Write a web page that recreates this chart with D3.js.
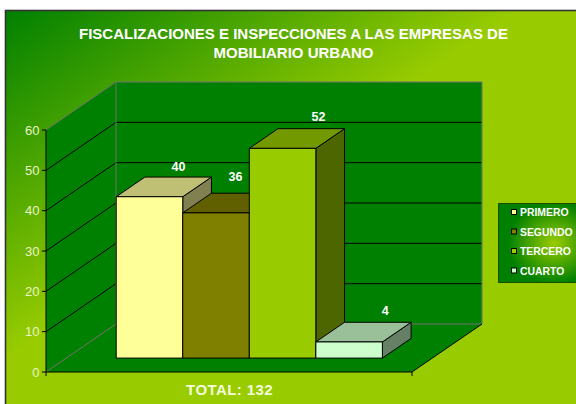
<!DOCTYPE html>
<html>
<head>
<meta charset="utf-8">
<script src="https://d3js.org/d3.v7.min.js"></script>
<style>
  html, body { margin: 0; padding: 0; background: #fff; overflow: hidden; }
  text { font-family: "Liberation Sans", Arial, sans-serif; }
</style>
</head>
<body>
<script>
const [w, h] = [576, 404];

const series_names = ['PRIMERO', 'SEGUNDO', 'TERCERO', 'CUARTO'];
const series_values = [40, 36, 52, 4];
const y_ticks = [0, 10, 20, 30, 40, 50, 60];
const title_lines = ['FISCALIZACIONES E INSPECCIONES A LAS EMPRESAS DE', 'MOBILIARIO URBANO'];
const axis_label = 'TOTAL: 132';

const front_colors = ['#ffff99', '#808000', '#99cc00', '#ccffcc'];
const top_colors = ['#c0c075', '#606000', '#739900', '#99c099'];
const side_colors = ['#808050', '#606000', '#4d6600', '#668066'];

// plot box, front face of the 3d walls
const [left, right, bottom, top_y] = [46, 412, 372, 130];
const [depth_x, depth_y] = [70, -48];

const y = d3.scaleLinear().domain([0, 60]).range([bottom, top_y]);
// depth runs from 0 (front of floor) to 1 (back wall)
const x = d3.scaleBand().domain(series_names)
  .range([left + 0.29 * depth_x, right + 0.29 * depth_x])
  .paddingInner(0).paddingOuter(0.75);

const project = (px, py, d) => [px + d * depth_x, py + d * depth_y];
const poly = (pts) => pts.map(p => p.join(',')).join(' ');

const svg = d3.select('body').append('svg').attr('width', w).attr('height', h).style('display', 'block');
const defs = svg.append('defs');

const bg = defs.append('linearGradient').attr('id', 'bg')
  .attr('gradientUnits', 'userSpaceOnUse')
  .attr('x1', 6).attr('y1', 11).attr('x2', 168).attr('y2', 250);
bg.append('stop').attr('offset', 0).attr('stop-color', '#008000');
bg.append('stop').attr('offset', 1).attr('stop-color', '#99cc00');

const leg = defs.append('radialGradient').attr('id', 'leg').attr('cx', 0.62).attr('cy', 0.5).attr('r', 0.52);
leg.append('stop').attr('offset', 0).attr('stop-color', '#99cc00');
leg.append('stop').attr('offset', 1).attr('stop-color', '#008000');

svg.append('rect').attr('x', 5.5).attr('y', 10.5).attr('width', w).attr('height', h)
  .attr('fill', 'url(#bg)').attr('stroke', '#333').attr('stroke-width', 1.6);

// walls and floor
const wall = '#008000';
svg.append('polygon').attr('fill', wall)
  .attr('points', poly([[left, bottom], [left, top_y], project(left, top_y, 1), project(left, bottom, 1)]));
svg.append('polygon').attr('fill', wall)
  .attr('points', poly([project(left, top_y, 1), project(right, top_y, 1), project(right, bottom, 1), project(left, bottom, 1)]));
svg.append('polygon').attr('fill', wall)
  .attr('points', poly([[left, bottom], [right, bottom], project(right, bottom, 1), project(left, bottom, 1)]));

// gridlines on side wall and back wall
const grid = y_ticks.filter(t => t > 0 && t < 60);
svg.append('g').selectAll('polyline').data(grid).enter().append('polyline')
  .attr('fill', 'none').attr('stroke', '#000').attr('stroke-width', 1)
  .attr('points', d => poly([[left, y(d)], project(left, y(d), 1), project(right, y(d), 1)]));

// grey wall edges
const edges = [
  [[left, top_y], project(left, top_y, 1), project(right, top_y, 1), project(right, bottom, 1)],
  [[left, bottom], project(left, bottom, 1)],
  [project(left, top_y, 1), project(left, bottom, 1), project(right, bottom, 1)]
];
svg.append('g').selectAll('polyline').data(edges).enter().append('polyline')
  .attr('fill', 'none').attr('stroke', '#707070').attr('stroke-width', 1)
  .attr('points', d => poly(d));

// the floor's right edge is black in the original
svg.append('line').attr('stroke', '#000')
  .attr('x1', right).attr('y1', bottom)
  .attr('x2', project(right, bottom, 1)[0]).attr('y2', project(right, bottom, 1)[1]);

// axes on the front
svg.append('path').attr('fill', 'none').attr('stroke', '#000')
  .attr('d', `M${left},${top_y}V${bottom}H${right}`);
svg.append('g').selectAll('line').data(y_ticks).enter().append('line')
  .attr('x1', left - 4).attr('x2', left).attr('y1', d => y(d)).attr('y2', d => y(d)).attr('stroke', '#000');
svg.append('g').selectAll('line').data([left, right]).enter().append('line')
  .attr('x1', d => d).attr('x2', d => d).attr('y1', bottom).attr('y2', bottom + 4).attr('stroke', '#000');
svg.append('g').selectAll('text').data(y_ticks).enter().append('text')
  .attr('x', left - 6.5).attr('y', d => y(d) + 4.5).attr('text-anchor', 'end')
  .attr('font-size', 13).attr('fill', '#e8f5c8').text(d => d);

// bars, front of each sits 0.29 into the floor and they are 0.41 deep
const bar_d = 0.41;
const base = y(0) + 0.29 * depth_y;
const bar_data = series_names.map((name, i) => ({ name, value: series_values[i], i }));
const bars = svg.append('g').selectAll('g').data(bar_data).enter().append('g')
  .attr('stroke', '#000').attr('stroke-width', 1).attr('stroke-linejoin', 'round');

const bar_top = d => base - (y(0) - y(d.value));
bars.append('polygon').attr('fill', d => side_colors[d.i])
  .attr('points', d => {
    const x1 = x(d.name) + x.bandwidth();
    return poly([[x1, base], [x1, bar_top(d)], project(x1, bar_top(d), bar_d), project(x1, base, bar_d)]);
  });
bars.append('polygon').attr('fill', d => top_colors[d.i])
  .attr('points', d => {
    const x0 = x(d.name), x1 = x0 + x.bandwidth(), t = bar_top(d);
    return poly([[x0, t], [x1, t], project(x1, t, bar_d), project(x0, t, bar_d)]);
  });
bars.append('rect').attr('fill', d => front_colors[d.i])
  .attr('x', d => x(d.name)).attr('y', bar_top).attr('width', x.bandwidth())
  .attr('height', d => base - bar_top(d));

// value labels, nudged one by one like the original
const label_dx = [29, 19.5, 36, 36];
const label_dy = [-26, -32, -27, -27];
svg.append('g').selectAll('text').data(bar_data).enter().append('text')
  .attr('x', d => x(d.name) + x.bandwidth() / 2 + label_dx[d.i])
  .attr('y', d => bar_top(d) + label_dy[d.i])
  .attr('text-anchor', 'middle').attr('font-size', 12.5).attr('font-weight', 'bold')
  .attr('fill', '#fff').text(d => d.value);

// title
svg.append('g').selectAll('text').data(title_lines).enter().append('text')
  .attr('x', 293.5).attr('y', (d, i) => 39 + i * 19)
  .attr('text-anchor', 'middle').attr('font-size', 15).attr('font-weight', 'bold')
  .attr('fill', '#fff').text(d => d);

svg.append('text').attr('x', 229.5).attr('y', 395).attr('text-anchor', 'middle')
  .attr('font-size', 15).attr('font-weight', 'bold').attr('fill', '#f4fbdc')
  .attr('letter-spacing', 0.4).text(axis_label);

// legend
svg.append('rect').attr('x', 498.5).attr('y', 203.5).attr('width', 90).attr('height', 79)
  .attr('fill', 'url(#leg)').attr('stroke', '#1a4d00');
const legend_item = svg.append('g').selectAll('g').data(bar_data).enter().append('g')
  .attr('transform', d => `translate(0, ${212 + d.i * 19.5})`);
legend_item.append('rect').attr('x', 511.5).attr('y', -2.5).attr('width', 5).attr('height', 5)
  .attr('fill', d => front_colors[d.i]).attr('stroke', '#000');
legend_item.append('text').attr('x', 520).attr('y', 4)
  .attr('font-size', 10.4).attr('font-weight', 'bold').attr('fill', '#fff').text(d => d.name);
</script>
</body>
</html>
